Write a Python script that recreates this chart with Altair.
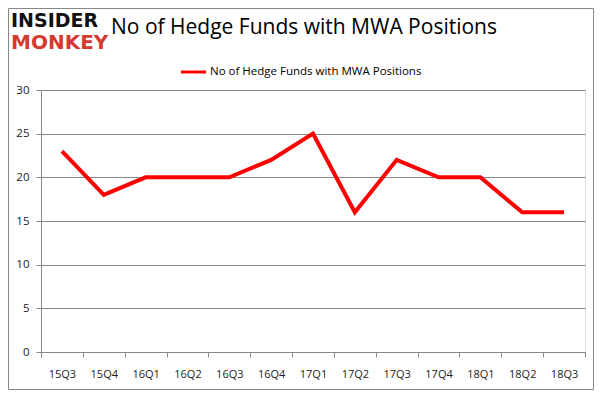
import altair as alt
import pandas as pd

quarters = ["15Q3", "15Q4", "16Q1", "16Q2", "16Q3", "16Q4", "17Q1",
            "17Q2", "17Q3", "17Q4", "18Q1", "18Q2", "18Q3"]
funds = [23, 18, 20, 20, 20, 22, 25, 16, 22, 20, 20, 16, 16]
title_text = "No of Hedge Funds with MWA Positions"
legend_text = "No of Hedge Funds with MWA Positions"
y_ticks = [0, 5, 10, 15, 20, 25, 30]

W, H = 544, 262
df = pd.DataFrame({"q": quarters, "n": funds})

line = alt.Chart(df).mark_line(color="#ff0000", strokeWidth=4, strokeJoin="miter").encode(
    x=alt.X("q:N", sort=quarters, bandPosition=0.5,
            scale=alt.Scale(type="band", paddingInner=0, paddingOuter=0),
            axis=alt.Axis(title=None, labelAngle=0, tickBand="extent", grid=False,
                          domainColor="#888888", tickColor="#888888", tickSize=5,
                          labelPadding=11, labelFont="Open Sans", labelFontSize=11,
                          labelColor="#222222")),
    y=alt.Y("n:Q", scale=alt.Scale(domain=[0, 30], nice=False),
            axis=alt.Axis(title=None, values=y_ticks, grid=True, gridColor="#888888",
                          domainColor="#888888", tickColor="#888888", tickSize=5,
                          labelPadding=7, labelFont="Open Sans", labelFontSize=11.5,
                          labelColor="#222222")),
)

one = pd.DataFrame({"t": [title_text], "l": [legend_text], "a": ["INSIDER"], "b": ["MONKEY"]})
base = alt.Chart(one)

title = base.mark_text(font="Open Sans", fontSize=21, align="center", baseline="middle",
                       color="#000000").encode(
    x=alt.value(263), y=alt.value(-62), text="t:N")
leg_line = base.mark_rule(color="#ff0000", strokeWidth=3).encode(
    x=alt.value(140), x2=alt.value(165), y=alt.value(-18))
leg_text = base.mark_text(font="Open Sans", fontSize=11.5, align="left", baseline="middle",
                          color="#000000").encode(
    x=alt.value(169), y=alt.value(-18), text="l:N")
logo1 = base.mark_text(font="DejaVu Sans", fontSize=19, fontWeight="bold", align="left",
                       baseline="middle", color="#111111").encode(
    x=alt.value(-30), y=alt.value(-69), text="a:N")
logo2 = base.mark_text(font="DejaVu Sans", fontSize=20, fontWeight="bold", align="left",
                       baseline="middle", color="#d43a2f").encode(
    x=alt.value(-30), y=alt.value(-47), text="b:N")
border = base.mark_rect(fill=None, stroke="#888888", strokeWidth=1).encode(
    x=alt.value(-32.5), x2=alt.value(552.5), y=alt.value(-81.5), y2=alt.value(299.5))

chart = alt.layer(border, line, title, leg_line, leg_text, logo1, logo2).properties(
    width=W, height=H,
    autosize=alt.AutoSizeParams(type="none"),
    padding={"left": 33, "top": 82, "right": 9, "bottom": 38},
).configure_view(stroke=None).configure(background="white")

chart.save("out.html", embed_options={"renderer": "svg", "actions": False})
